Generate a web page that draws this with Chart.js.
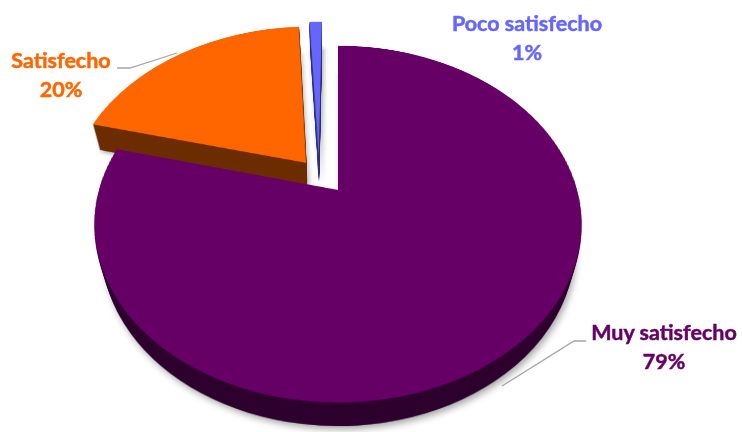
<!DOCTYPE html>
<html>
<head>
<meta charset="utf-8">
<script src="https://cdn.jsdelivr.net/npm/chart.js@4.4.1/dist/chart.umd.min.js"></script>
<style>
html, body { margin: 0; padding: 0; background: #fff; overflow: hidden; }
#stage { position: relative; width: 742px; height: 432px; overflow: hidden; perspective: 868px; perspective-origin: 338px 190px; }
#pie { position: absolute; left: 38px; top: -110px; width: 600px; height: 600px; transform-origin: 300px 300px; transform: rotateX(44deg); transform-style: preserve-3d; }
#pie canvas { position: absolute; left: 0; top: 0; }
#labels { position: absolute; left: 0; top: 0; }
</style>
</head>
<body>
<div id="stage">
  <div id="pie"></div>
  <svg id="labels" width="742" height="432"></svg>
</div>
<script>
const categories = ['Muy satisfecho', 'Satisfecho', 'Poco satisfecho'];
const values = [79, 20, 1];
const colors = ['#660066', '#FF6600', '#6666FF'];

// slice pull-out in the pie plane (px), label anchors and leader lines on the page
const explode = [[0, 0], [-33, -39], [-20, -49]];
const labelPos = [[664, 340], [61, 68], [527, 31]];
const leaders = [[[586, 341], [574, 341], [502, 386]], [[117, 68], [130, 68], [177, 53]], null];

const SIZE = 600;
const RADIUS = 239;
const DEPTH = 38;

const pie = document.getElementById('pie');
const layers = [];
for (let k = DEPTH; k >= 1; k--) {
    const c = document.createElement('canvas');
    c.width = SIZE;
    c.height = SIZE;
    c.style.transform = `translateZ(${-k}px)`;
    if (k === DEPTH) c.style.filter = 'drop-shadow(2px 3px 3px rgba(0,0,0,0.35))';
    pie.appendChild(c);
    layers.push(c);
}
const face = document.createElement('canvas');
face.width = SIZE;
face.height = SIZE;
face.style.transform = 'translateZ(0px)';
pie.appendChild(face);

const explodePlugin = {
    id: 'explode',
    beforeDatasetDraw(chart, args) {
        const ctx = chart.ctx;
        args.meta.data.forEach((arc, i) => {
            ctx.save();
            ctx.translate(explode[i][0], explode[i][1]);
            arc.draw(ctx);
            ctx.restore();
        });
        return false;
    },
    afterRender(chart) {
        // darker copies of the top make the sides of the 3d pie
        for (const c of layers) {
            const g = c.getContext('2d');
            g.clearRect(0, 0, SIZE, SIZE);
            g.drawImage(chart.canvas, 0, 0);
            g.globalCompositeOperation = 'source-atop';
            g.fillStyle = 'rgba(0,0,0,0.58)';
            g.fillRect(0, 0, SIZE, SIZE);
            g.globalCompositeOperation = 'source-over';
        }
    }
};

new Chart(face, {
    type: 'pie',
    data: {
        labels: categories,
        datasets: [{
            data: values,
            backgroundColor: colors,
            borderWidth: 0,
            radius: RADIUS
        }]
    },
    options: {
        responsive: false,
        animation: false,
        events: [],
        layout: { padding: 0 },
        plugins: {
            legend: { display: false },
            tooltip: { enabled: false }
        }
    },
    plugins: [explodePlugin]
});

const svg = document.getElementById('labels');
const NS = 'http://www.w3.org/2000/svg';
categories.forEach((name, i) => {
    if (leaders[i]) {
        const line = document.createElementNS(NS, 'polyline');
        line.setAttribute('points', leaders[i].map(p => p.join(',')).join(' '));
        line.setAttribute('fill', 'none');
        line.setAttribute('stroke', '#a6a6a6');
        line.setAttribute('stroke-width', '1.3');
        svg.appendChild(line);
    }
    const [x, y] = labelPos[i];
    [name, values[i] + '%'].forEach((s, j) => {
        const t = document.createElementNS(NS, 'text');
        t.setAttribute('x', x);
        t.setAttribute('y', y + j * 29);
        t.setAttribute('text-anchor', 'middle');
        t.setAttribute('fill', colors[i]);
        t.setAttribute('stroke', colors[i]);
        t.setAttribute('stroke-width', '0.5');
        t.setAttribute('font-family', 'Lato, "Open Sans", sans-serif');
        t.setAttribute('font-weight', 'bold');
        t.setAttribute('font-size', '21.5');
        t.textContent = s;
        svg.appendChild(t);
    });
});
</script>
</body>
</html>
